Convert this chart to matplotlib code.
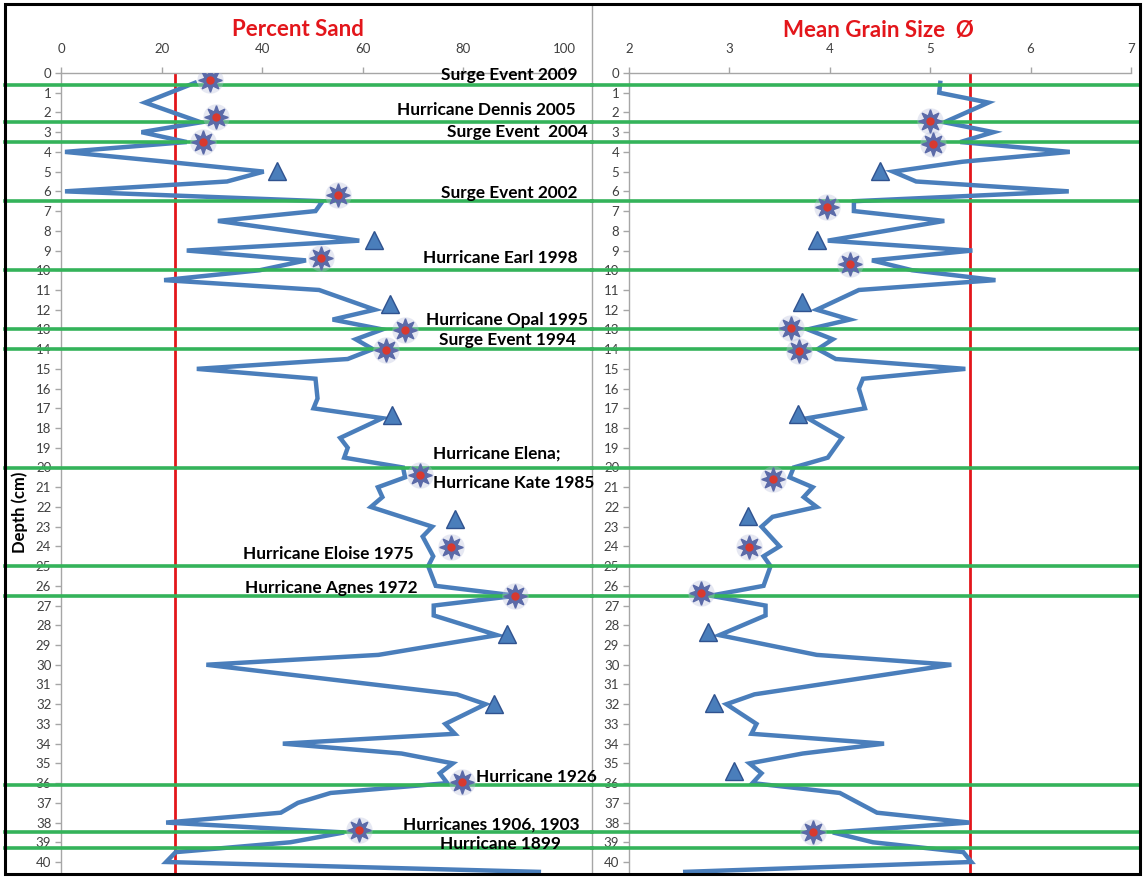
import matplotlib
matplotlib.use("Agg")
import matplotlib.pyplot as plt
from matplotlib.patches import Rectangle
from matplotlib.lines import Line2D
from matplotlib import transforms

plt.rcParams['font.family'] = ['Lato', 'DejaVu Sans']

# percent sand profile (depth cm, %)
sand_depth = [0.5, 1.5, 2.5, 3.0, 3.5, 4.0, 4.5, 5.0, 5.5, 6.0, 6.5, 7.0, 7.5, 8.5,
              9.0, 9.5, 10.0, 10.5, 11.0, 12.0, 12.5, 13.0, 13.5, 14.0, 14.5, 15.0,
              15.5, 16.5, 17.0, 17.5, 18.5, 19.0, 19.5, 20.0, 20.5, 21.0, 21.5, 22.0,
              23.0, 23.5, 24.5, 25.0, 26.0, 26.5, 27.0, 27.5, 28.5, 29.5, 30.0, 31.5,
              32.0, 33.0, 33.5, 34.0, 34.5, 35.0, 35.5, 36.0, 36.5, 37.0, 37.5, 38.0,
              38.5, 39.0, 39.5, 40.0, 40.5]
sand_pct = [26.6, 16.7, 27.8, 16.0, 25.0, 0.8, 21.0, 40.3, 33.0, 0.8, 52.0, 50.6, 31.2, 59.3,
            25.0, 48.7, 39.5, 20.5, 51.3, 62.4, 54.0, 63.9, 58.6, 62.0, 57.0, 27.0,
            50.6, 51.0, 50.2, 63.9, 55.5, 57.0, 56.3, 68.0, 68.4, 63.0, 63.9, 61.6,
            73.8, 71.9, 74.0, 73.0, 74.5, 90.5, 74.1, 74.1, 86.7, 63.1, 28.9, 78.7,
            84.4, 76.4, 78.3, 44.1, 67.7, 77.9, 75.3, 76.8, 53.6, 47.1, 43.7, 20.9,
            56.3, 45.6, 22.8, 20.9, 95.0]

# mean grain size profile (depth cm, phi)
grain_depth = [0.5, 1.0, 1.5, 2.5, 3.0, 3.5, 4.0, 4.5, 5.0, 5.5, 6.0, 6.5, 7.0, 7.5, 8.5,
               9.0, 9.5, 10.0, 10.5, 11.0, 12.0, 12.5, 13.0, 13.5, 14.0, 14.5, 15.0,
               15.5, 16.0, 17.0, 17.5, 18.5, 19.5, 20.0, 20.5, 21.0, 21.5, 22.0, 22.5,
               23.0, 24.0, 24.5, 25.0, 26.0, 26.5, 27.0, 27.5, 28.5, 29.5, 30.0, 31.5,
               32.0, 33.0, 33.5, 34.0, 34.5, 35.0, 35.5, 36.0, 36.5, 37.5, 38.0, 38.5,
               39.0, 39.5, 40.0, 40.5]
grain_phi = [5.10, 5.09, 5.58, 5.14, 5.63, 5.30, 6.39, 5.32, 4.63, 4.86, 6.38, 4.24, 4.24, 5.14, 3.98,
             5.42, 4.42, 4.82, 5.65, 4.29, 3.87, 4.20, 3.78, 4.03, 3.88, 4.06, 5.35,
             4.33, 4.29, 4.35, 3.78, 4.12, 3.98, 3.64, 3.60, 3.83, 3.74, 3.87, 3.43,
             3.32, 3.50, 3.34, 3.41, 3.34, 2.81, 3.36, 3.36, 2.90, 3.87, 5.21, 3.25,
             2.97, 3.27, 3.22, 4.54, 3.73, 3.20, 3.32, 3.23, 4.10, 4.47, 5.39, 4.03,
             4.43, 5.33, 5.41, 2.56]

# event markers
sand_star_depth = [0.35, 2.25, 3.5, 6.2, 9.4, 13.05, 14.05, 20.4, 24.05, 26.5, 35.95, 38.4]
sand_star_pct = [29.7, 30.8, 28.2, 55.0, 51.6, 68.3, 64.6, 71.3, 77.6, 90.3, 79.8, 59.3]
sand_tri_depth = [4.95, 8.45, 11.7, 17.35, 22.6, 28.45, 32.0]
sand_tri_pct = [43.0, 62.2, 65.4, 65.8, 78.4, 88.6, 86.0]

grain_star_depth = [2.45, 3.6, 6.8, 9.7, 12.95, 14.1, 20.6, 24.05, 26.35, 38.5]
grain_star_phi = [5.00, 5.03, 3.97, 4.20, 3.61, 3.69, 3.43, 3.20, 2.72, 3.83]
grain_tri_depth = [4.95, 8.45, 11.6, 17.3, 22.45, 28.35, 31.95, 35.4]
grain_tri_phi = [4.50, 3.87, 3.72, 3.68, 3.19, 2.79, 2.85, 3.05]

# horizontal event horizons and threshold lines
event_depths = [0.6, 2.5, 3.5, 6.5, 10.0, 13.0, 14.0, 20.0, 25.0, 26.5, 36.1, 38.5, 39.3]
sand_threshold = 22.7
grain_threshold = 5.4

event_labels = [
    ("Surge Event 2009", 102.6, 0.1, "right"),
    ("Hurricane Dennis 2005", 102.4, 1.9, "right"),
    ("Surge Event  2004", 104.8, 3.0, "right"),
    ("Surge Event 2002", 102.6, 6.1, "right"),
    ("Hurricane Earl 1998", 102.8, 9.4, "right"),
    ("Hurricane Opal 1995", 104.8, 12.5, "right"),
    ("Surge Event 1994", 102.4, 13.55, "right"),
    ("Hurricane Elena;", 74.0, 19.3, "left"),
    ("Hurricane Kate 1985", 74.0, 20.8, "left"),
    ("Hurricane Eloise 1975", 36.2, 24.4, "left"),
    ("Hurricane Agnes 1972", 36.6, 26.1, "left"),
    ("Hurricane 1926", 82.5, 35.7, "left"),
    ("Hurricanes 1906, 1903", 68.0, 38.1, "left"),
    ("Hurricane 1899", 75.3, 39.1, "left"),
]

W, H = 1144, 877
fig = plt.figure(figsize=(W / 100, H / 100), dpi=100)

top = 1 - 73 / H
bottom = 1 - 873 / H
ymax = (873 - 73) / 19.725

ax1 = fig.add_axes([61 / W, bottom, (564 - 61) / W, top - bottom])
ax2 = fig.add_axes([629 / W, bottom, (1131 - 629) / W, top - bottom])

blue = '#4a7ebb'
green = '#34b35a'
star_kw = dict(marker=(8, 1, 0), ms=17, color='#5b6aa8', mec='#5b6aa8', ls='none', zorder=6)
glow_kw = dict(marker='o', ms=19, color='#b8bfdc', alpha=0.35, mec='none', ls='none', zorder=5)
dot_kw = dict(marker='o', ms=6, color='#d8392f', mec='none', ls='none', zorder=7)
tri_kw = dict(marker='^', ms=13, color=blue, mec='#2f528f', mew=1, ls='none', zorder=6)

panels = [
    (ax1, sand_pct, sand_depth, sand_star_pct, sand_star_depth, sand_tri_pct, sand_tri_depth,
     sand_threshold, (0, 100), range(0, 101, 20), (5 / W, 592 / W)),
    (ax2, grain_phi, grain_depth, grain_star_phi, grain_star_depth, grain_tri_phi, grain_tri_depth,
     grain_threshold, (2, 7), range(2, 8), (592 / W, 1140 / W)),
]
for ax, xs, ys, sx, sy, tx, ty, thr, xlim, ticks, span in panels:
    ax.plot(xs, ys, color=blue, lw=3.2, solid_joinstyle='miter', zorder=3, clip_on=False)
    ax.plot(sx, sy, **glow_kw)
    ax.plot(sx, sy, **star_kw)
    ax.plot(sx, sy, **dot_kw)
    ax.plot(tx, ty, **tri_kw)
    ax.axvline(thr, color='#e3161b', lw=2, zorder=2)
    # event horizons run across this panel's part of the figure
    trans = transforms.blended_transform_factory(fig.transFigure, ax.transData)
    for d in event_depths:
        ax.add_line(Line2D(list(span), [d, d], transform=trans, color=green,
                           lw=2.6, zorder=4, clip_on=False))
    ax.set_xlim(*xlim)
    ax.set_ylim(ymax, 0)
    ax.set_xticks(list(ticks))
    ax.set_yticks(range(0, 41))
    ax.xaxis.tick_top()
    for side in ('right', 'bottom'):
        ax.spines[side].set_visible(False)
    for side in ('left', 'top'):
        ax.spines[side].set_color('#a6a6a6')
        ax.spines[side].set_linewidth(1)
    ax.tick_params(axis='both', direction='out', length=4, width=1, color='#a6a6a6',
                   labelsize=9.5, labelcolor='#404040')
    ax.tick_params(axis='x', pad=9)
    ax.tick_params(axis='y', pad=3)
    ax.patch.set_alpha(0)

for text, x, y, ha in event_labels:
    ax1.text(x, y, text, ha=ha, va='center', fontsize=12.4, fontweight='bold',
             color='black', clip_on=False, zorder=8)

fig.text(298 / W, 1 - 30 / H, "Percent Sand", ha='center', va='center',
         fontsize=16, fontweight='bold', color='#e3161b')
fig.text(878 / W, 1 - 30 / H, "Mean Grain Size  Ø", ha='center', va='center',
         fontsize=16, fontweight='bold', color='#e3161b')
fig.text(20 / W, 1 - 512 / H, "Depth (cm)", rotation=90, ha='center', va='center',
         fontsize=12, fontweight='bold', color='black')

# panel divider and outer frame
fig.add_artist(Line2D([592 / W, 592 / W], [1 - 874 / H, 1 - 4 / H],
                      transform=fig.transFigure, color='#a6a6a6', lw=1, zorder=-1))
fig.add_artist(Rectangle((5 / W, 1 - 874 / H), 1135 / W, 870 / H, transform=fig.transFigure,
                         fill=False, ec='black', lw=2.2, zorder=10))

fig.savefig("out.png", dpi=100)
